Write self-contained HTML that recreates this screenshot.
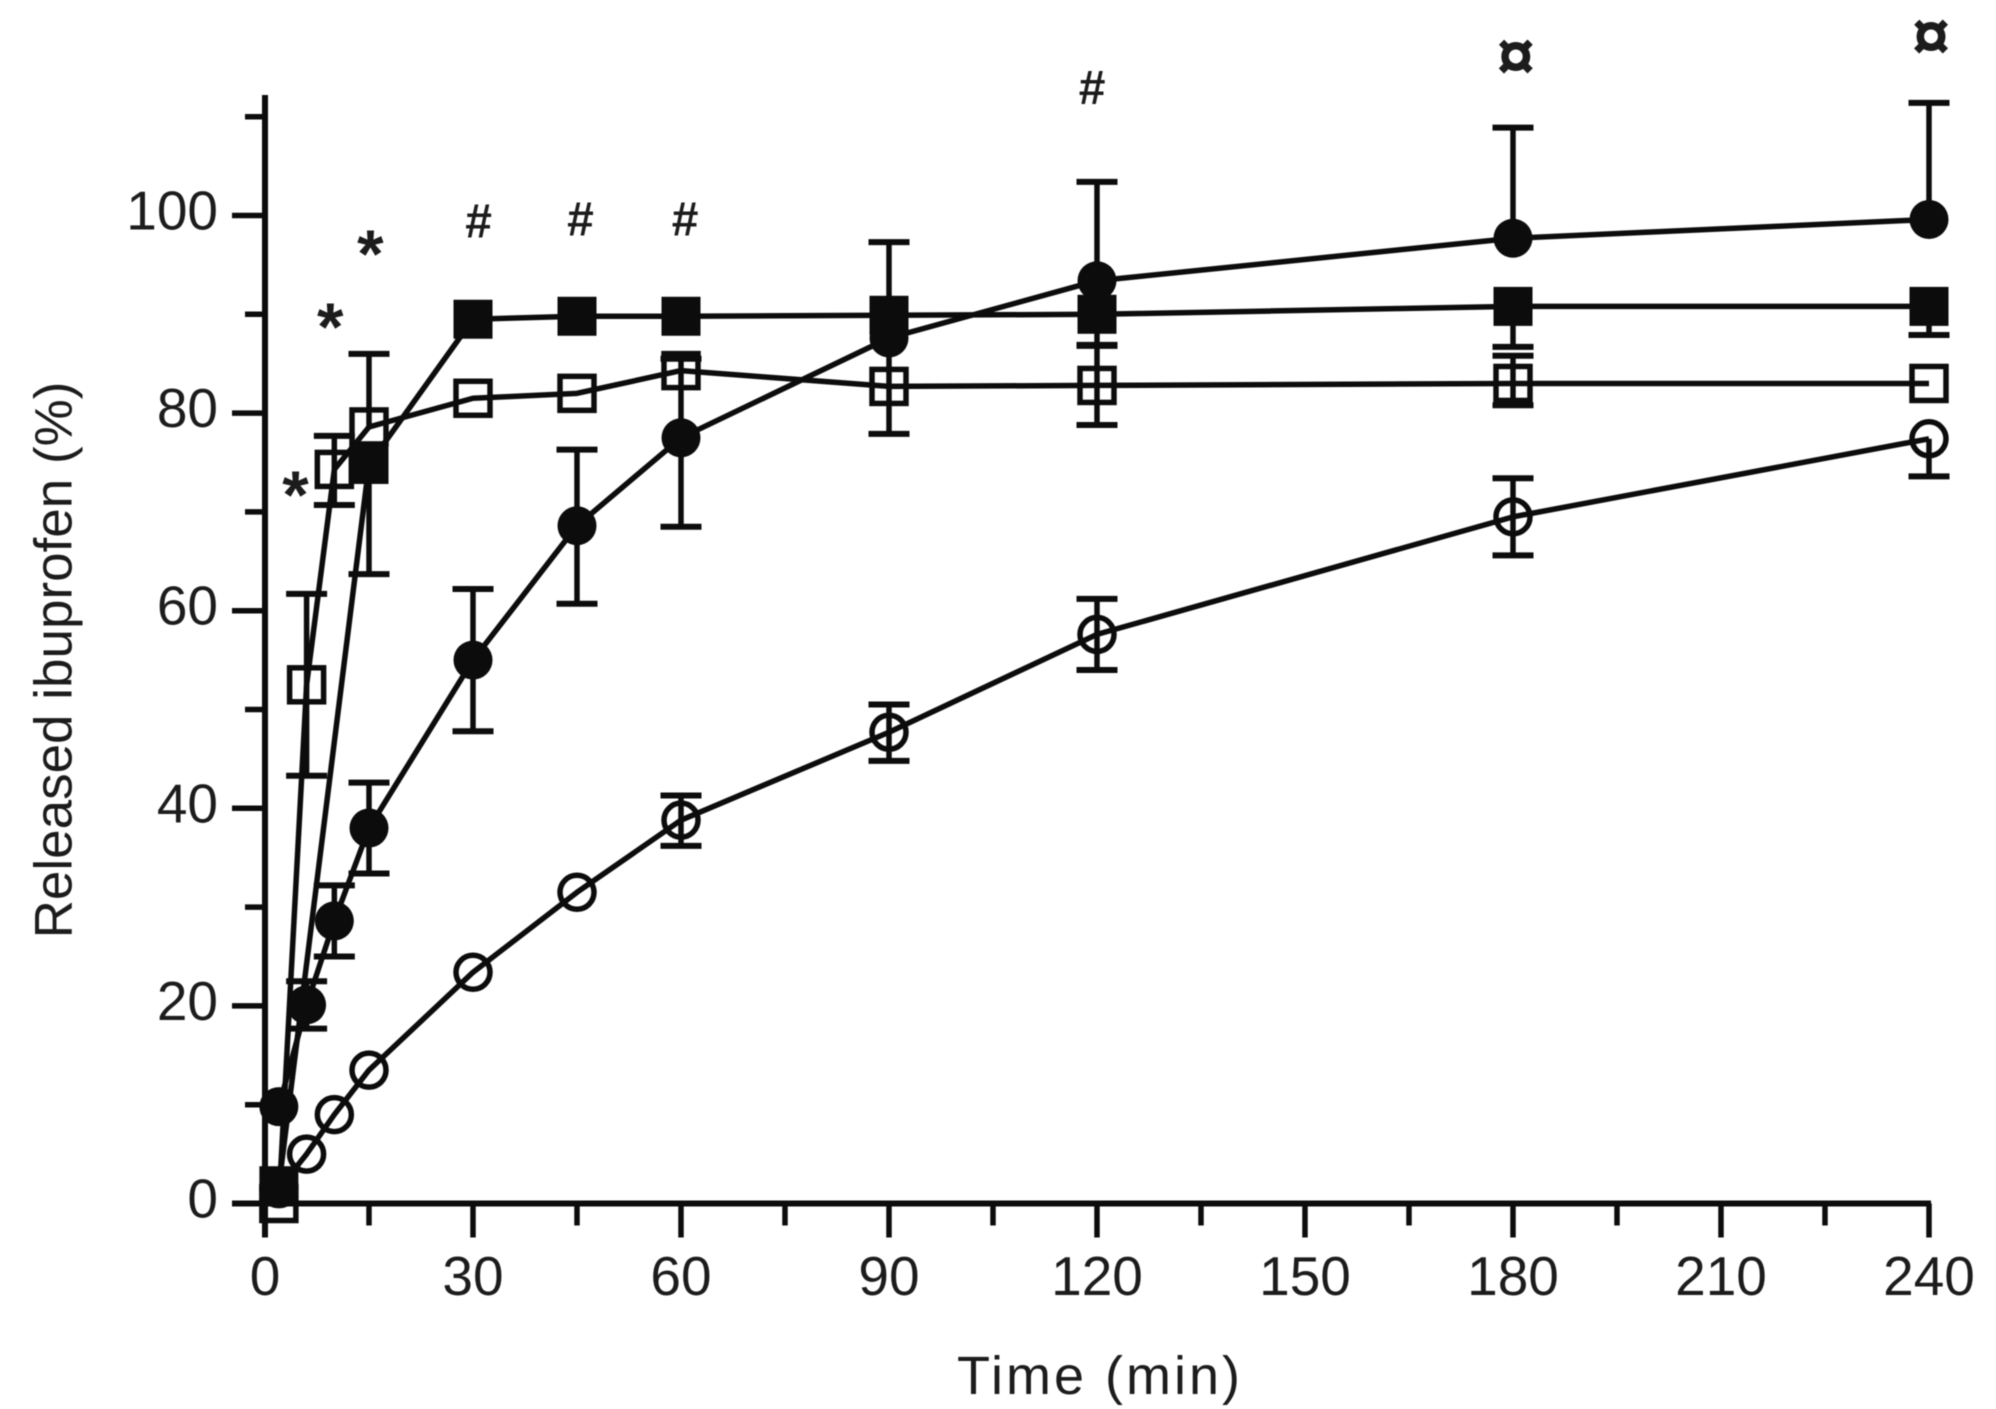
<!DOCTYPE html>
<html>
<head>
<meta charset="utf-8">
<title>Released ibuprofen over time</title>
<style>
html,body{margin:0;padding:0;background:#fff;}
svg{display:block;filter:blur(0.6px);}
text{font-family:"Liberation Sans",sans-serif;fill:#1c1c1c;}
</style>
</head>
<body>
<svg id="chart" xmlns="http://www.w3.org/2000/svg" width="1996" height="1409" viewBox="0 0 1996 1409">
<rect x="0" y="0" width="1996" height="1409" fill="#fff"></rect>
<text x="54" y="660" font-size="53" text-anchor="middle" dominant-baseline="central" transform="rotate(-90 54 660)">Released ibuprofen (%)</text>
<text x="1100" y="1394" font-size="54" text-anchor="middle" letter-spacing="3">Time (min)</text>
</svg>
<script>
const xMajorTicks = [0, 30, 60, 90, 120, 150, 180, 210, 240];
const xMinorTicks = [15, 45, 75, 105, 135, 165, 195, 225];
const yMajorTicks = [0, 20, 40, 60, 80, 100];
const yMinorTicks = [10, 30, 50, 70, 90, 110];

const timesFull = [2, 6, 10, 15, 30, 45, 60, 90, 120, 180, 240];
const timesFilledSquare = [2, 15, 30, 45, 60, 90, 120, 180, 240];

const openCircleValues = [1.5, 5, 9, 13.5, 23.4, 31.5, 38.8, 47.7, 57.6, 69.5, 77.4];
const openCircleUp = [0, 0, 0, 0, 0, 0, 2.5, 2.8, 3.6, 3.9, 0];
const openCircleDown = [0, 0, 0, 0, 0, 0, 2.6, 2.9, 3.6, 3.9, 3.8];

const filledCircleValues = [9.8, 20.1, 28.6, 38, 55, 68.6, 77.5, 87.6, 93.4, 97.7, 99.6];
const filledCircleUp = [0, 2.4, 3.6, 4.6, 7.2, 7.7, 8, 9.7, 10, 11.2, 11.8];
const filledCircleDown = [0, 2.4, 3.6, 4.6, 7.2, 7.9, 9, 9.7, 0, 0, 0];

const openSquareValues = [0, 52.5, 74.3, 78.6, 81.5, 82, 84.3, 82.7, 82.8, 83, 83];
const openSquareUp = [0, 9.2, 3.4, 7.4, 0, 0, 0, 0, 4, 2.8, 0];
const openSquareDown = [0, 9.2, 3.6, 0, 0, 0, 0, 0, 4, 2.2, 0];

const filledSquareValues = [1.8, 74.8, 89.5, 89.8, 89.8, 89.9, 90, 90.8, 90.8];
const filledSquareUp = [0, 0, 0, 0, 0, 0, 0, 0, 0];
const filledSquareDown = [0, 11.1, 0, 0, 0, 0, 3.1, 4.1, 2.9];

const annotationSymbols = ["*", "*", "*", "#", "#", "#", "#", "\u00A4", "\u00A4"];
const annotationTimes = [4.4, 9.4, 15.2, 30.8, 45.5, 60.6, 119.3, 180.4, 240.3];
const annotationValues = [72, 89, 96.4, 99.5, 99.7, 99.7, 113, 116, 118];

const NS = "http://www.w3.org/2000/svg";
const svg = document.getElementById("chart");
const INK = "#0c0c0c";
function xScale(t) { return 265 + t * (1929 - 265) / 240; }
function yScale(v) { return 1203.5 - v * (1203.5 - 215.5) / 100; }

function mk(tag, attrs) {
  const el = document.createElementNS(NS, tag);
  for (const k in attrs) el.setAttribute(k, attrs[k]);
  svg.appendChild(el);
  return el;
}
function segment(x1, y1, x2, y2, w) {
  return mk("line", {x1: x1, y1: y1, x2: x2, y2: y2, stroke: INK, "stroke-width": w});
}

function drawAxes() {
  let el = segment(265, yScale(0) + 34, 265, 95, 6);
  
  
  el = segment(232, yScale(0), xScale(240) + 2, yScale(0), 6);
  
  
  xMajorTicks.forEach(function (t) {
    const tick = segment(xScale(t), yScale(0), xScale(t), yScale(0) + 34, 5.5);
    
    
    const label = mk("text", {x: xScale(t), y: 1295, "font-size": 55, "text-anchor": "middle"});
    label.textContent = String(t);
    
    
  });
  xMinorTicks.forEach(function (t) {
    const tick = segment(xScale(t), yScale(0), xScale(t), yScale(0) + 22, 5.5);
    
    
  });
  yMajorTicks.forEach(function (v) {
    const tick = segment(232, yScale(v), 265, yScale(v), 5.5);
    
    
    const label = mk("text", {x: 218, y: yScale(v) + 14, "font-size": 55, "text-anchor": "end"});
    label.textContent = String(v);
    
    
  });
  yMinorTicks.forEach(function (v) {
    const tick = segment(245, yScale(v), 265, yScale(v), 5.5);
    
    
  });
}

function drawSeries(name, times, values, up, down, shape, filled) {
  const pts = times.map(function (t, i) { return xScale(t) + "," + yScale(values[i]); }).join(" ");
  const line = mk("polyline", {points: pts, fill: "none", stroke: INK, "stroke-width": 5.5, "stroke-linejoin": "round"});
  
  
  times.forEach(function (t, i) {
    const x = xScale(t), y = yScale(values[i]);
    if (up[i] > 0) {
      const bar = segment(x, y, x, yScale(values[i] + up[i]), 5.5);
      
      
      const cap = segment(x - 20.5, yScale(values[i] + up[i]), x + 20.5, yScale(values[i] + up[i]), 6);
      
      
    }
    if (down[i] > 0) {
      const bar = segment(x, y, x, yScale(values[i] - down[i]), 5.5);
      
      
      const cap = segment(x - 20.5, yScale(values[i] - down[i]), x + 20.5, yScale(values[i] - down[i]), 6);
      
      
    }
    let marker;
    if (shape === "circle") {
      marker = mk("circle", {cx: x, cy: y, r: filled ? 19.5 : 17, fill: filled ? INK : "none", stroke: INK, "stroke-width": filled ? 0 : 5.5});
    } else {
      const half = filled ? 19.5 : 17;
      marker = mk("rect", {x: x - half, y: y - half, width: half * 2, height: half * 2, fill: filled ? INK : "none", stroke: INK, "stroke-width": filled ? 0 : 5.5});
    }
    
    
  });
}

function drawAnnotations() {
  annotationSymbols.forEach(function (s, i) {
    const size = s === "*" ? 68 : (s === "#" ? 48 : 68);
    const dy = s === "*" ? 26 : (s === "#" ? 17 : 22);
    const a = mk("text", {x: xScale(annotationTimes[i]), y: yScale(annotationValues[i]) + dy, "font-size": size, "text-anchor": "middle", "font-weight": "bold", fill: "#111"});
    a.textContent = s;
    
    
  });
}

drawAxes();
drawSeries("open-circle-series", timesFull, openCircleValues, openCircleUp, openCircleDown, "circle", false);
drawSeries("open-square-series", timesFull, openSquareValues, openSquareUp, openSquareDown, "square", false);
drawSeries("filled-square-series", timesFilledSquare, filledSquareValues, filledSquareUp, filledSquareDown, "square", true);
drawSeries("filled-circle-series", timesFull, filledCircleValues, filledCircleUp, filledCircleDown, "circle", true);
drawAnnotations();
</script>
</body>
</html>
